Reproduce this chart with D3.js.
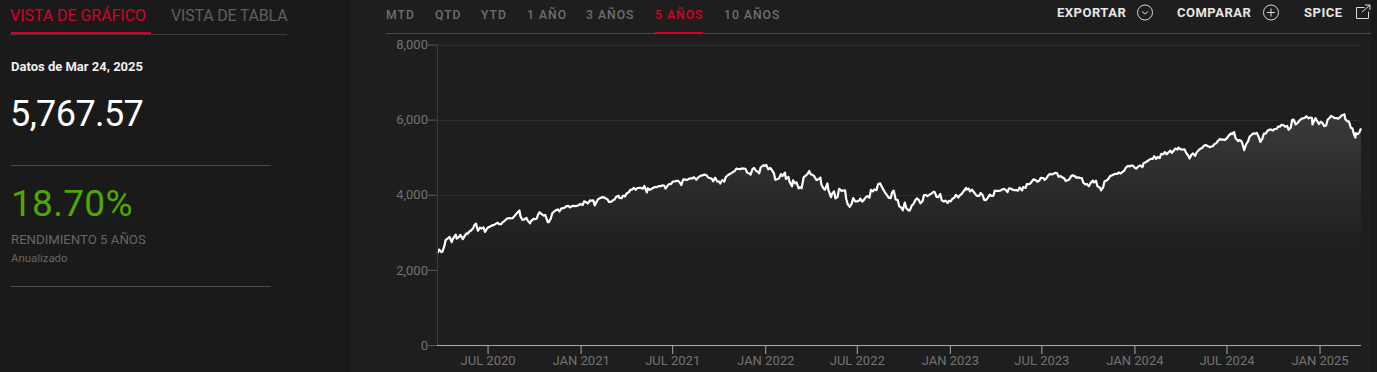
<!DOCTYPE html>
<html lang="es">
<head>
<meta charset="utf-8">
<title>Vista de gráfico</title>
<script src="https://cdn.jsdelivr.net/npm/d3@7"></script>
<style>
    html, body { margin: 0; padding: 0; background: #1e1e1e; overflow: hidden; }
    svg { display: block; font-family: Roboto, sans-serif; }
    .axis .domain { display: none; }
    .axis text { fill: #737373; font-size: 13px; font-family: Roboto, sans-serif; }
    .axis-y line { stroke: #5a5a5a; }
    .axis-x line { stroke: #a8a8a8; }
    .range-tab { font-size: 12.2px; font-weight: 500; letter-spacing: 1px; fill: #6e6e6e; }
    .range-tab.on { fill: #d6002a; }
    .action { font-size: 13px; font-weight: 700; letter-spacing: .5px; fill: #e6e6e6; }
    .icon { fill: none; stroke: #d8d8d8; stroke-width: 1; }
</style>
</head>
<body>
<svg id="chart" width="1377" height="372"></svg>
<script>
// S&P closes: end-of-week points
const closeDates = [
    '2020-03-24','2020-03-27','2020-04-03','2020-04-09','2020-04-17','2020-04-24','2020-05-01','2020-05-08','2020-05-15','2020-05-22','2020-05-29','2020-06-05','2020-06-12','2020-06-19','2020-06-26','2020-07-02','2020-07-10','2020-07-17','2020-07-24','2020-07-31','2020-08-07','2020-08-14','2020-08-21','2020-08-28','2020-09-04','2020-09-11','2020-09-18','2020-09-25','2020-10-02','2020-10-09','2020-10-16','2020-10-23','2020-10-30','2020-11-06','2020-11-13','2020-11-20','2020-11-27','2020-12-04','2020-12-11','2020-12-18','2020-12-24','2020-12-31',
    '2021-01-08','2021-01-15','2021-01-22','2021-01-29','2021-02-05','2021-02-12','2021-02-19','2021-02-26','2021-03-05','2021-03-12','2021-03-19','2021-03-26','2021-04-01','2021-04-09','2021-04-16','2021-04-23','2021-04-30','2021-05-07','2021-05-14','2021-05-21','2021-05-28','2021-06-04','2021-06-11','2021-06-18','2021-06-25','2021-07-02','2021-07-09','2021-07-16','2021-07-23','2021-07-30','2021-08-06','2021-08-13','2021-08-20','2021-08-27','2021-09-03','2021-09-10','2021-09-17','2021-09-24','2021-10-01','2021-10-08','2021-10-15','2021-10-22','2021-10-29','2021-11-05','2021-11-12','2021-11-19','2021-11-26','2021-12-03','2021-12-10','2021-12-17','2021-12-23','2021-12-31',
    '2022-01-03','2022-01-07','2022-01-14','2022-01-21','2022-01-28','2022-02-04','2022-02-11','2022-02-18','2022-02-25','2022-03-04','2022-03-11','2022-03-18','2022-03-25','2022-04-01','2022-04-08','2022-04-14','2022-04-22','2022-04-29','2022-05-06','2022-05-13','2022-05-20','2022-05-27','2022-06-03','2022-06-10','2022-06-17','2022-06-24','2022-07-01','2022-07-08','2022-07-15','2022-07-22','2022-07-29','2022-08-05','2022-08-12','2022-08-19','2022-08-26','2022-09-02','2022-09-09','2022-09-16','2022-09-23','2022-09-30','2022-10-07','2022-10-14','2022-10-21','2022-10-28','2022-11-04','2022-11-11','2022-11-18','2022-11-25','2022-12-02','2022-12-09','2022-12-16','2022-12-23','2022-12-30',
    '2023-01-06','2023-01-13','2023-01-20','2023-01-27','2023-02-03','2023-02-10','2023-02-17','2023-02-24','2023-03-03','2023-03-10','2023-03-17','2023-03-24','2023-03-31','2023-04-06','2023-04-14','2023-04-21','2023-04-28','2023-05-05','2023-05-12','2023-05-19','2023-05-26','2023-06-02','2023-06-09','2023-06-16','2023-06-23','2023-06-30','2023-07-07','2023-07-14','2023-07-21','2023-07-28','2023-08-04','2023-08-11','2023-08-18','2023-08-25','2023-09-01','2023-09-08','2023-09-15','2023-09-22','2023-09-29','2023-10-06','2023-10-13','2023-10-20','2023-10-27','2023-11-03','2023-11-10','2023-11-17','2023-11-24','2023-12-01','2023-12-08','2023-12-15','2023-12-22','2023-12-29',
    '2024-01-05','2024-01-12','2024-01-19','2024-01-26','2024-02-02','2024-02-09','2024-02-16','2024-02-23','2024-03-01','2024-03-08','2024-03-15','2024-03-22','2024-03-28','2024-04-05','2024-04-12','2024-04-19','2024-04-26','2024-05-03','2024-05-10','2024-05-17','2024-05-24','2024-05-31','2024-06-07','2024-06-14','2024-06-21','2024-06-28','2024-07-05','2024-07-12','2024-07-19','2024-07-26','2024-08-02','2024-08-09','2024-08-16','2024-08-23','2024-08-30','2024-09-06','2024-09-13','2024-09-20','2024-09-27','2024-10-04','2024-10-11','2024-10-18','2024-10-25','2024-11-01','2024-11-08','2024-11-15','2024-11-22','2024-11-29','2024-12-06','2024-12-13','2024-12-20','2024-12-27','2024-12-31',
    '2025-01-03','2025-01-10','2025-01-17','2025-01-24','2025-01-31','2025-02-07','2025-02-14','2025-02-19','2025-02-21','2025-02-28','2025-03-07','2025-03-13','2025-03-14','2025-03-21','2025-03-24'
];
const closeValues = [
    2447,2541,2489,2790,2875,2837,2830,2930,2864,2955,3044,3194,3041,3098,3009,3130,3185,3225,3216,3271,3351,3373,3397,3508,3427,3341,3319,3298,3348,3477,3484,3465,3270,3509,3585,3558,3638,3699,3663,3709,3703,3756,
    3825,3768,3841,3714,3887,3935,3907,3811,3842,3943,3913,3975,4020,4129,4185,4180,4181,4233,4174,4156,4204,4229,4247,4166,4281,4352,4370,4327,4412,4395,4437,4468,4442,4509,4535,4459,4433,4455,4357,4391,4471,4544,4605,4697,4682,4698,4594,4538,4712,4620,4725,4766,
    4796,4677,4662,4398,4431,4500,4419,4349,4385,4329,4204,4463,4543,4545,4488,4392,4272,4132,4123,4024,3901,4158,4109,3901,3675,3912,3825,3899,3863,3962,4130,4145,4280,4228,4058,3924,4067,3873,3693,3586,3640,3583,3752,3901,3771,3993,3965,4026,4072,3934,3852,3845,3840,
    3895,3999,3973,4071,4136,4090,4079,3970,4046,3862,3917,3971,4109,4105,4138,4134,4169,4136,4124,4192,4205,4282,4299,4410,4348,4450,4399,4505,4536,4582,4478,4464,4370,4406,4516,4457,4450,4320,4288,4309,4327,4224,4117,4358,4415,4514,4559,4595,4604,4719,4755,4770,
    4697,4784,4840,4891,4959,5027,5006,5089,5137,5124,5117,5234,5254,5204,5123,4967,5100,5128,5223,5303,5305,5278,5347,5431,5465,5460,5567,5615,5505,5459,5346,5344,5554,5635,5648,5408,5626,5703,5738,5751,5815,5865,5808,5729,5996,5871,5969,6032,6090,6051,5931,5971,5882,
    5942,5827,5997,6101,6041,6026,6115,6144,6013,5955,5770,5522,5639,5667,5767.57
];
// Mid-week readings, gives the line its jagged look
const midweekDates = [
    '2020-04-01','2020-04-07','2020-04-14','2020-04-21','2020-04-29','2020-05-05','2020-05-13','2020-05-20','2020-05-27','2020-06-03','2020-06-08','2020-06-16','2020-06-23','2020-06-30','2020-07-08','2020-07-14','2020-07-21','2020-07-28','2020-08-04','2020-08-12','2020-08-19','2020-08-26','2020-09-02','2020-09-08','2020-09-16','2020-09-23','2020-09-30','2020-10-06','2020-10-12','2020-10-20','2020-10-28','2020-11-03','2020-11-09','2020-11-17','2020-11-24','2020-12-01','2020-12-08','2020-12-15','2020-12-21','2020-12-29',
    '2021-01-05','2021-01-12','2021-01-20','2021-01-26','2021-02-02','2021-02-09','2021-02-16','2021-02-23','2021-03-03','2021-03-09','2021-03-17','2021-03-23','2021-03-30','2021-04-07','2021-04-13','2021-04-20','2021-04-27','2021-05-04','2021-05-12','2021-05-18','2021-05-25','2021-06-01','2021-06-08','2021-06-15','2021-06-22','2021-06-29','2021-07-07','2021-07-13','2021-07-19','2021-07-27','2021-08-03','2021-08-10','2021-08-18','2021-08-24','2021-08-31','2021-09-07','2021-09-14','2021-09-20','2021-09-28','2021-10-04','2021-10-12','2021-10-19','2021-10-26','2021-11-02','2021-11-09','2021-11-16','2021-11-23','2021-11-30','2021-12-07','2021-12-14','2021-12-20','2021-12-28',
    '2022-01-11','2022-01-18','2022-01-24','2022-02-01','2022-02-09','2022-02-16','2022-02-23','2022-03-01','2022-03-08','2022-03-14','2022-03-22','2022-03-29','2022-04-05','2022-04-12','2022-04-20','2022-04-26','2022-05-04','2022-05-11','2022-05-17','2022-05-24','2022-06-01','2022-06-08','2022-06-13','2022-06-21','2022-06-28','2022-07-06','2022-07-12','2022-07-19','2022-07-26','2022-08-02','2022-08-09','2022-08-16','2022-08-23','2022-08-30','2022-09-06','2022-09-12','2022-09-20','2022-09-27','2022-10-04','2022-10-12','2022-10-18','2022-10-25','2022-11-01','2022-11-08','2022-11-15','2022-11-22','2022-11-30','2022-12-06','2022-12-13','2022-12-20','2022-12-28',
    '2023-01-03','2023-01-10','2023-01-18','2023-01-24','2023-02-02','2023-02-07','2023-02-14','2023-02-22','2023-02-28','2023-03-07','2023-03-13','2023-03-21','2023-03-28','2023-04-04','2023-04-11','2023-04-18','2023-04-25','2023-05-01','2023-05-09','2023-05-16','2023-05-24','2023-05-31','2023-06-06','2023-06-13','2023-06-20','2023-06-27','2023-07-05','2023-07-11','2023-07-18','2023-07-26','2023-08-01','2023-08-08','2023-08-15','2023-08-22','2023-08-29','2023-09-05','2023-09-12','2023-09-19','2023-09-26','2023-10-03','2023-10-11','2023-10-17','2023-10-25','2023-10-31','2023-11-07','2023-11-14','2023-11-21','2023-11-28','2023-12-05','2023-12-12','2023-12-19','2023-12-27',
    '2024-01-03','2024-01-09','2024-01-17','2024-01-23','2024-01-30','2024-02-06','2024-02-13','2024-02-20','2024-02-27','2024-03-05','2024-03-12','2024-03-19','2024-03-26','2024-04-02','2024-04-09','2024-04-16','2024-04-23','2024-04-30','2024-05-07','2024-05-14','2024-05-21','2024-05-29','2024-06-04','2024-06-11','2024-06-18','2024-06-25','2024-07-02','2024-07-10','2024-07-16','2024-07-24','2024-07-30','2024-08-05','2024-08-13','2024-08-20','2024-08-27','2024-09-03','2024-09-10','2024-09-17','2024-09-24','2024-10-01','2024-10-08','2024-10-15','2024-10-22','2024-10-29','2024-11-05','2024-11-11','2024-11-19','2024-11-26','2024-12-03','2024-12-10','2024-12-17','2024-12-18','2024-12-24',
    '2025-01-07','2025-01-14','2025-01-21','2025-01-28','2025-02-04','2025-02-11','2025-02-18','2025-02-25','2025-03-04','2025-03-10','2025-03-18'
];
const midweekValues = [
    2470,2659,2846,2737,2939,2868,2820,2971,3036,3122,3232,3124,3131,3100,3169,3197,3257,3218,3306,3380,3375,3478,3580,3332,3385,3237,3363,3361,3534,3443,3271,3369,3550,3610,3635,3662,3702,3694,3694,3727,
    3726,3801,3852,3849,3826,3911,3932,3881,3819,3875,3974,3910,3958,4079,4141,4134,4187,4164,4063,4127,4188,4202,4227,4246,4246,4291,4358,4369,4258,4401,4423,4436,4400,4486,4523,4520,4443,4357,4352,4300,4351,4520,4575,4631,4685,4701,4690,4567,4687,4634,4568,4786,
    4713,4577,4410,4546,4587,4475,4225,4306,4170,4173,4512,4632,4525,4397,4459,4175,4300,3935,4088,3941,4101,4116,3750,3765,3821,3845,3818,3937,3921,4091,4122,4305,4128,3986,3909,4110,3856,3655,3791,3577,3720,3859,3856,3828,3992,4003,4080,3941,4019,3821,3783,
    3825,3920,3929,4017,4180,4165,4137,3991,3970,3986,3856,4002,3971,4100,4108,4154,4071,4167,4119,4110,4115,4180,4283,4369,4388,4378,4446,4439,4555,4566,4576,4499,4438,4387,4497,4496,4461,4443,4274,4229,4376,4373,4186,4193,4378,4496,4538,4554,4567,4643,4768,4781,
    4705,4756,4739,4864,4925,4954,4953,4976,5078,5078,5175,5178,5203,5205,5209,5051,5070,5036,5187,5247,5321,5267,5291,5375,5487,5469,5509,5633,5667,5427,5436,5186,5434,5597,5625,5529,5495,5634,5732,5709,5751,5815,5851,5832,5782,6001,5917,6021,6049,6034,6050,5872,6040,
    5909,5842,6049,6068,6038,6068,6129,5955,5779,5614,5615
];
const yTicks = [0, 2000, 4000, 6000, 8000];
const xTickDates = ['2020-07-01','2021-01-01','2021-07-01','2022-01-01','2022-07-01','2023-01-01','2023-07-01','2024-01-01','2024-07-01','2025-01-01'];
const rangeTabs = ['MTD', 'QTD', 'YTD', '1 AÑO', '3 AÑOS', '5 AÑOS', '10 AÑOS'];
const rangeTabX = [386, 435, 481, 527, 586, 655, 724];
const activeRange = '5 AÑOS';

const svg = d3.select('#chart');
const parseDate = d3.utcParse('%Y-%m-%d');
const monthLabel = d3.utcFormat('%b %Y');

// ── Panels ────────────────────────────────────────────────────────────────────
svg.append('rect').attr('width', 1377).attr('height', 372).attr('fill', '#1e1e1e');
svg.append('rect').attr('width', 351).attr('height', 372).attr('fill', '#1a1a1a');
svg.append('rect').attr('x', 1371).attr('width', 6).attr('height', 372).attr('fill', '#1a1a1a');

// ── Left column ───────────────────────────────────────────────────────────────
const side = svg.append('g');
const sideText = (x, y, size, weight, color, str, spacing = 0) => side.append('text')
    .attr('x', x).attr('y', y).attr('font-size', size).attr('font-weight', weight)
    .attr('letter-spacing', spacing).attr('fill', color).text(str);

sideText(10, 21, 16, 400, '#d6002a', 'VISTA DE GRÁFICO', -0.05);
sideText(171, 21, 16, 400, '#5f5f5f', 'VISTA DE TABLA', -0.2);
side.append('line').attr('x1', 10).attr('x2', 287).attr('y1', 34.5).attr('y2', 34.5).attr('stroke', '#3a3a3a');
side.append('rect').attr('x', 11).attr('y', 32).attr('width', 140).attr('height', 2).attr('fill', '#d6002a');

sideText(11, 71, 13, 700, '#f0f0f0', 'Datos de Mar 24, 2025');
sideText(10, 126, 36, 400, '#ffffff', '5,767.57', -0.6);
side.append('line').attr('x1', 11).attr('x2', 271).attr('y1', 165.5).attr('y2', 165.5).attr('stroke', '#4a4a4a');
sideText(11, 216, 37, 400, '#4fa800', '18.70%', 0.3);
sideText(11, 244, 13.2, 400, '#666666', 'RENDIMIENTO 5 AÑOS');
sideText(11, 262, 11.4, 400, '#666666', 'Anualizado');
side.append('line').attr('x1', 11).attr('x2', 271).attr('y1', 286.5).attr('y2', 286.5).attr('stroke', '#4a4a4a');

// ── Top bar ───────────────────────────────────────────────────────────────────
const bar = svg.append('g');
bar.append('line').attr('x1', 386).attr('x2', 1371).attr('y1', 33.5).attr('y2', 33.5).attr('stroke', '#4a4a4a');
bar.selectAll('.range-tab').data(rangeTabs).join('text')
    .attr('class', d => d === activeRange ? 'range-tab on' : 'range-tab')
    .attr('x', (d, i) => rangeTabX[i]).attr('y', 19).text(d => d);
bar.append('rect').attr('x', 655).attr('y', 32).attr('width', 48).attr('height', 2).attr('fill', '#d6002a');

bar.append('text').attr('class', 'action').attr('x', 1057).attr('y', 17).text('EXPORTAR');
bar.append('text').attr('class', 'action').attr('x', 1177).attr('y', 17).text('COMPARAR');
bar.append('text').attr('class', 'action').attr('x', 1304).attr('y', 17).text('SPICE');

bar.append('circle').attr('class', 'icon').attr('cx', 1145).attr('cy', 12.5).attr('r', 7.5);
bar.append('path').attr('class', 'icon').attr('d', 'M1142 11.5l3 2.5l3-2.5');
bar.append('circle').attr('class', 'icon').attr('cx', 1271).attr('cy', 12.5).attr('r', 7.5);
bar.append('path').attr('class', 'icon').attr('d', 'M1267 12.5h8M1271 8.5v8');
bar.append('path').attr('class', 'icon').attr('d', 'M1364.5 7.5h-8v11h12v-7M1362 12l8-7M1365 5h5v5');

// ── Chart ─────────────────────────────────────────────────────────────────────
const rows = closeDates.map((d, i) => ({ date: parseDate(d), close: closeValues[i] }))
    .concat(midweekDates.map((d, i) => ({ date: parseDate(d), close: midweekValues[i] })))
    .sort((a, b) => d3.ascending(a.date, b.date));

const x = d3.scaleUtc()
    .domain(d3.extent(rows, d => d.date))
    .range([437.5, 1361]);
const y = d3.scaleLinear()
    .domain([0, 8000])
    .range([345, 44.5]);

// Opaque fade: it covers the gridlines, the 2,000 one disappears under it
const grad = svg.append('defs').append('linearGradient')
    .attr('id', 'area-fade').attr('gradientUnits', 'userSpaceOnUse')
    .attr('x1', 0).attr('x2', 0).attr('y1', y(6144)).attr('y2', y(2500));
grad.append('stop').attr('offset', 0).attr('stop-color', '#3a3a3a');
grad.append('stop').attr('offset', 1).attr('stop-color', '#1e1e1e');

svg.append('g').attr('class', 'grid')
    .selectAll('line').data(yTicks.filter(d => d > 0)).join('line')
    .attr('x1', 437).attr('x2', 1361)
    .attr('y1', d => Math.round(y(d)) + 0.5).attr('y2', d => Math.round(y(d)) + 0.5)
    .attr('stroke', '#2c2c2c');

svg.append('path').datum(rows)
    .attr('fill', 'url(#area-fade)')
    .attr('d', d3.area().x(d => x(d.date)).y0(y(0)).y1(d => y(d.close)));

svg.append('path').datum(rows)
    .attr('fill', 'none').attr('stroke', '#fff').attr('stroke-width', 2.2)
    .attr('stroke-linejoin', 'round')
    .attr('d', d3.line().x(d => x(d.date)).y(d => y(d.close)));

svg.append('line').attr('x1', 437.5).attr('x2', 437.5).attr('y1', 44).attr('y2', 345)
    .attr('stroke', '#3a3a3a');

svg.append('g').attr('class', 'axis axis-y')
    .attr('transform', 'translate(437,0)')
    .call(d3.axisLeft(y).tickValues(yTicks).tickFormat(d3.format(',')).tickSize(9).tickPadding(0));

svg.append('g').attr('class', 'axis axis-x')
    .attr('transform', 'translate(0,345)')
    .call(d3.axisBottom(x).tickValues(xTickDates.map(parseDate))
        .tickFormat(d => monthLabel(d).toUpperCase()).tickSize(9).tickPadding(2));

svg.append('line').attr('x1', 437).attr('x2', 1361).attr('y1', 345.5).attr('y2', 345.5)
    .attr('stroke', '#a8a8a8');
</script>
</body>
</html>
